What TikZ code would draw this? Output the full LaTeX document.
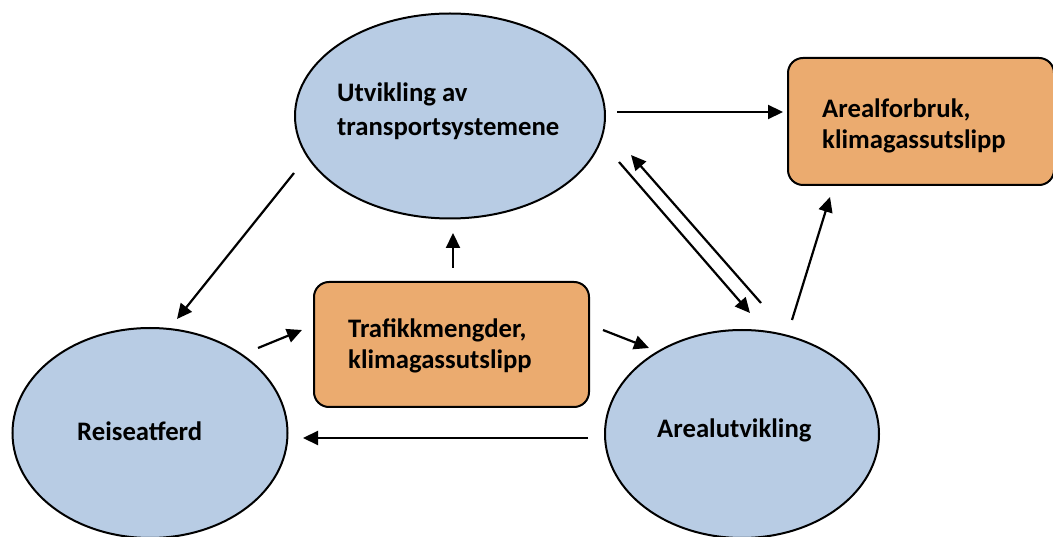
\documentclass[tikz,border=0pt]{standalone}
\usepackage{fontspec}
\setmainfont{Carlito}
\usetikzlibrary{shapes.geometric,arrows.meta}
\definecolor{ellblue}{HTML}{B8CCE4}
\definecolor{boxorange}{HTML}{EBAB6F}
\begin{document}
\begin{tikzpicture}[x=1pt,y=-1pt,
  ellnode/.style={ellipse,draw=black,line width=2pt,fill=ellblue,inner sep=0pt},
  boxnode/.style={rectangle,rounded corners=15pt,draw=black,line width=2pt,fill=boxorange,inner sep=0pt},
  lbl/.style={font=\bfseries\fontsize{26.7}{33}\selectfont,align=left,inner sep=0pt,text=black},
  conn/.style={line width=2.2pt,-{Triangle[length=15pt,width=14pt]}}]
\useasboundingbox (0,0) rectangle (1053,537);
\begin{scope}
\clip (0,0) rectangle (1053,537);
% shapes
\node[ellnode,minimum width=310pt,minimum height=205pt] (utv) at (450,116) {};
\node[ellnode,minimum width=275pt,minimum height=210pt] (reise) at (150,433) {};
\node[ellnode,minimum width=274pt,minimum height=208pt] (areal) at (742,434) {};
\node[boxnode,minimum width=266pt,minimum height=127pt] (forbruk) at (921,121.5) {};
\node[boxnode,minimum width=275pt,minimum height=125pt] (trafikk) at (451.5,344.5) {};
\end{scope}
% texts
\node[lbl,anchor=west] (tutv) at (337,111) {Utvikling av\\[1pt]transportsystemene};
\node[lbl,anchor=base west] (treise) at (77,441) {Reiseatferd};
\node[lbl,anchor=base west] (tareal) at (657,438) {Arealutvikling};
\node[lbl,anchor=west] (tforbruk) at (822,125.5) {Arealforbruk,\\[-2pt]klimagassutslipp};
\node[lbl,anchor=west] (ttrafikk) at (348,345.5) {Trafikkmengder,\\[-2pt]klimagassutslipp};
% connector end points
\coordinate (a1s) at (617,112); \coordinate (a1e) at (783,112);
\coordinate (a2s) at (619,162); \coordinate (a2e) at (750,313);
\coordinate (a3s) at (761,303); \coordinate (a3e) at (631,155);
\coordinate (a4s) at (792,320); \coordinate (a4e) at (830,197);
\coordinate (a5s) at (294,173); \coordinate (a5e) at (177,319);
\coordinate (a6s) at (453,268); \coordinate (a6e) at (453,233);
\coordinate (a7s) at (258,348); \coordinate (a7e) at (302,330);
\coordinate (a8s) at (603,330); \coordinate (a8e) at (649,348);
\coordinate (a9s) at (588,438); \coordinate (a9e) at (303,438);
% connectors
\draw[conn] (a1s) -- (a1e);
\draw[conn] (a2s) -- (a2e);
\draw[conn] (a3s) -- (a3e);
\draw[conn] (a4s) -- (a4e);
\draw[conn] (a5s) -- (a5e);
\draw[conn] (a6s) -- (a6e);
\draw[conn] (a7s) -- (a7e);
\draw[conn] (a8s) -- (a8e);
\draw[conn] (a9s) -- (a9e);
\end{tikzpicture}
\end{document}
